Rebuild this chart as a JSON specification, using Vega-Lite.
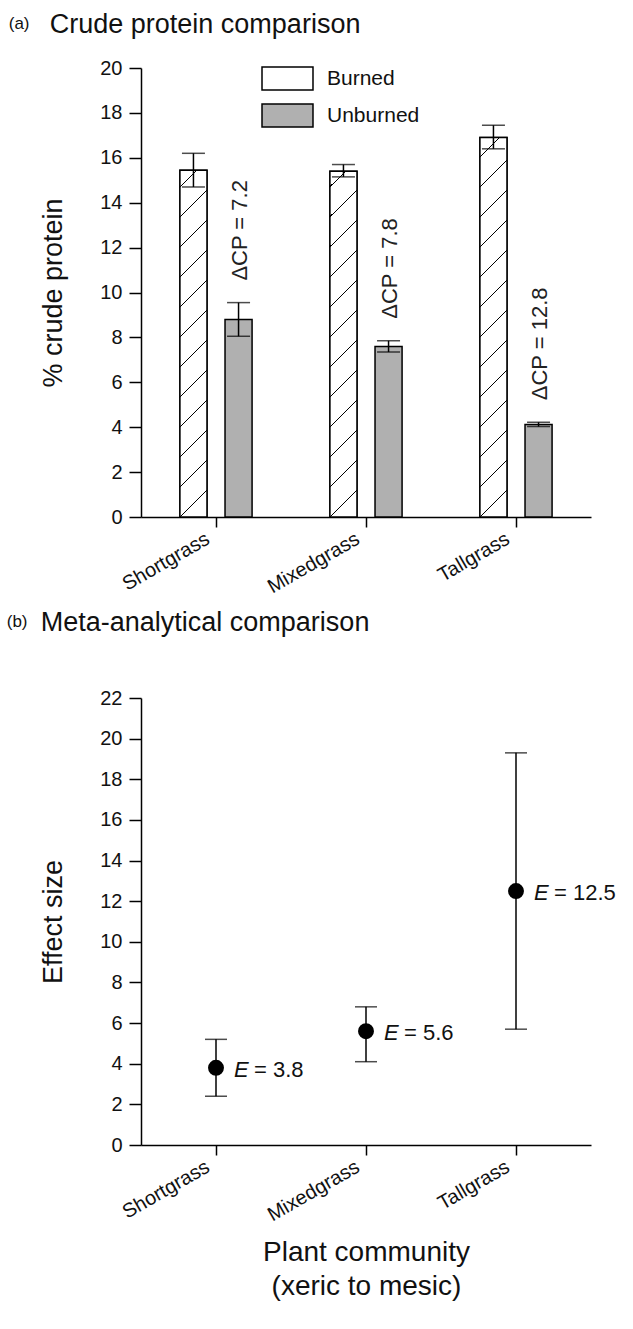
{
  "$schema": "https://vega.github.io/schema/vega-lite/v6.json",
  "background": "white",
  "padding": {"left": 6, "top": 11, "right": 5, "bottom": 5},
  "datasets": {
    "cp": [
      {"community": "Shortgrass", "treatment": "Burned", "cp": 15.45, "lo": 14.7, "hi": 16.2, "dcp": ""},
      {"community": "Shortgrass", "treatment": "Unburned", "cp": 8.8, "lo": 8.05, "hi": 9.55, "dcp": "ΔCP = 7.2"},
      {"community": "Mixedgrass", "treatment": "Burned", "cp": 15.4, "lo": 15.15, "hi": 15.7, "dcp": ""},
      {"community": "Mixedgrass", "treatment": "Unburned", "cp": 7.6, "lo": 7.35, "hi": 7.85, "dcp": "ΔCP = 7.8"},
      {"community": "Tallgrass", "treatment": "Burned", "cp": 16.9, "lo": 16.4, "hi": 17.45, "dcp": ""},
      {"community": "Tallgrass", "treatment": "Unburned", "cp": 4.12, "lo": 4.03, "hi": 4.22, "dcp": "ΔCP = 12.8"}
    ],
    "es": [
      {"community": "Shortgrass", "E": 3.8, "lo": 2.4, "hi": 5.2, "elabel": "= 3.8"},
      {"community": "Mixedgrass", "E": 5.6, "lo": 4.1, "hi": 6.8, "elabel": "= 5.6"},
      {"community": "Tallgrass", "E": 12.5, "lo": 5.7, "hi": 19.3, "elabel": "= 12.5"}
    ]
  },
  "spacing": 12,
  "vconcat": [
    {
      "title": {"text": "(a)", "fontSize": 17, "anchor": "start", "offset": -22, "dx": -31},
      "vconcat": [
        {
          "width": 450,
          "height": 449,
          "title": {"text": "Crude protein comparison", "fontSize": 27, "anchor": "start", "offset": 0, "dy": -19, "dx": 10},
          "data": {"name": "cp"},
          "encoding": {
            "x": {"field": "community", "type": "nominal", "sort": ["Shortgrass", "Mixedgrass", "Tallgrass"],
                  "scale": {"paddingInner": 0, "paddingOuter": 0},
                  "axis": {"title": null, "labelAngle": -30, "labelAlign": "right", "labelBaseline": "middle", "labelOffset": -8, "tickSize": 10, "labelPadding": 10, "labelFontSize": 20}},
            "xOffset": {"field": "treatment", "type": "nominal", "sort": ["Burned", "Unburned"],
                        "scale": {"paddingInner": 0.4, "paddingOuter": 0.863}}
          },
          "layer": [
            {
              "mark": {"type": "bar", "stroke": "black", "strokeWidth": 1.5},
              "encoding": {
                "y": {"field": "cp", "type": "quantitative", "title": "% crude protein",
                      "scale": {"domain": [0, 20], "nice": false},
                      "axis": {"values": [0, 2, 4, 6, 8, 10, 12, 14, 16, 18, 20], "tickSize": 12, "labelFontSize": 20, "titleFontSize": 27, "titlePadding": 32, "labelPadding": 7}},
                "fill": {
                  "field": "treatment", "type": "nominal",
                  "scale": {"domain": ["Burned", "Unburned"], "range": ["white", "#b0b0b0"]},
                  "legend": {
                    "title": null, "orient": "none", "legendX": 134, "legendY": -2, "padding": 0,
                    "symbolType": "M-2.217,-1H2.217V1H-2.217Z", "symbolSize": 529,
                    "symbolStrokeColor": "black", "symbolStrokeWidth": 1.5, "symbolOpacity": 1,
                    "labelFontSize": 21, "labelOffset": 27, "rowPadding": 8, "labelFont": "Liberation Sans", "labelColor": "#111",
                    "encode": {
                      "symbols": {
                        "update": {
                          "stroke": {"value": "black"},
                          "strokeWidth": {"value": 1.5},
                          "opacity": {"value": 1}
                        }
                      }
                    }
                  }
                }
              }
            },
            {
              "transform": [{"filter": "datum.community === 'Shortgrass' && datum.treatment === 'Burned'"}],
              "mark": {"type": "bar", "stroke": "black", "strokeWidth": 1.5, "fill": {"gradient": "linear", "x1": 0, "y1": 0, "x2": 0.0778, "y2": 1, "stops": [
                      {"offset": 0, "color": "white"},
                      {"offset": 0.04585, "color": "white"}, {"offset": 0.04585, "color": "black"}, {"offset": 0.05100, "color": "black"}, {"offset": 0.05100, "color": "white"},
                      {"offset": 0.13181, "color": "white"}, {"offset": 0.13181, "color": "black"}, {"offset": 0.13696, "color": "black"}, {"offset": 0.13696, "color": "white"},
                      {"offset": 0.21777, "color": "white"}, {"offset": 0.21777, "color": "black"}, {"offset": 0.22292, "color": "black"}, {"offset": 0.22292, "color": "white"},
                      {"offset": 0.30372, "color": "white"}, {"offset": 0.30372, "color": "black"}, {"offset": 0.30888, "color": "black"}, {"offset": 0.30888, "color": "white"},
                      {"offset": 0.38968, "color": "white"}, {"offset": 0.38968, "color": "black"}, {"offset": 0.39484, "color": "black"}, {"offset": 0.39484, "color": "white"},
                      {"offset": 0.47564, "color": "white"}, {"offset": 0.47564, "color": "black"}, {"offset": 0.48080, "color": "black"}, {"offset": 0.48080, "color": "white"},
                      {"offset": 0.56160, "color": "white"}, {"offset": 0.56160, "color": "black"}, {"offset": 0.56676, "color": "black"}, {"offset": 0.56676, "color": "white"},
                      {"offset": 0.64756, "color": "white"}, {"offset": 0.64756, "color": "black"}, {"offset": 0.65272, "color": "black"}, {"offset": 0.65272, "color": "white"},
                      {"offset": 0.73352, "color": "white"}, {"offset": 0.73352, "color": "black"}, {"offset": 0.73868, "color": "black"}, {"offset": 0.73868, "color": "white"},
                      {"offset": 0.81948, "color": "white"}, {"offset": 0.81948, "color": "black"}, {"offset": 0.82464, "color": "black"}, {"offset": 0.82464, "color": "white"},
                      {"offset": 0.90544, "color": "white"}, {"offset": 0.90544, "color": "black"}, {"offset": 0.91060, "color": "black"}, {"offset": 0.91060, "color": "white"},
                      {"offset": 0.99140, "color": "white"}, {"offset": 0.99140, "color": "black"}, {"offset": 0.99656, "color": "black"}, {"offset": 0.99656, "color": "white"},
                      {"offset": 1, "color": "white"}]}},
              "encoding": {"y": {"field": "cp", "type": "quantitative", "title": "% crude protein"}}
            },
            {
              "transform": [{"filter": "datum.community === 'Mixedgrass' && datum.treatment === 'Burned'"}],
              "mark": {"type": "bar", "stroke": "black", "strokeWidth": 1.5, "fill": {"gradient": "linear", "x1": 0, "y1": 0, "x2": 0.0781, "y2": 1, "stops": [
                      {"offset": 0, "color": "white"},
                      {"offset": 0.04256, "color": "white"}, {"offset": 0.04256, "color": "black"}, {"offset": 0.04772, "color": "black"}, {"offset": 0.04772, "color": "white"},
                      {"offset": 0.12881, "color": "white"}, {"offset": 0.12881, "color": "black"}, {"offset": 0.13398, "color": "black"}, {"offset": 0.13398, "color": "white"},
                      {"offset": 0.21506, "color": "white"}, {"offset": 0.21506, "color": "black"}, {"offset": 0.22023, "color": "black"}, {"offset": 0.22023, "color": "white"},
                      {"offset": 0.30132, "color": "white"}, {"offset": 0.30132, "color": "black"}, {"offset": 0.30649, "color": "black"}, {"offset": 0.30649, "color": "white"},
                      {"offset": 0.38757, "color": "white"}, {"offset": 0.38757, "color": "black"}, {"offset": 0.39274, "color": "black"}, {"offset": 0.39274, "color": "white"},
                      {"offset": 0.47383, "color": "white"}, {"offset": 0.47383, "color": "black"}, {"offset": 0.47899, "color": "black"}, {"offset": 0.47899, "color": "white"},
                      {"offset": 0.56008, "color": "white"}, {"offset": 0.56008, "color": "black"}, {"offset": 0.56525, "color": "black"}, {"offset": 0.56525, "color": "white"},
                      {"offset": 0.64633, "color": "white"}, {"offset": 0.64633, "color": "black"}, {"offset": 0.65150, "color": "black"}, {"offset": 0.65150, "color": "white"},
                      {"offset": 0.73259, "color": "white"}, {"offset": 0.73259, "color": "black"}, {"offset": 0.73776, "color": "black"}, {"offset": 0.73776, "color": "white"},
                      {"offset": 0.81884, "color": "white"}, {"offset": 0.81884, "color": "black"}, {"offset": 0.82401, "color": "black"}, {"offset": 0.82401, "color": "white"},
                      {"offset": 0.90510, "color": "white"}, {"offset": 0.90510, "color": "black"}, {"offset": 0.91027, "color": "black"}, {"offset": 0.91027, "color": "white"},
                      {"offset": 0.99135, "color": "white"}, {"offset": 0.99135, "color": "black"}, {"offset": 0.99652, "color": "black"}, {"offset": 0.99652, "color": "white"},
                      {"offset": 1, "color": "white"}]}},
              "encoding": {"y": {"field": "cp", "type": "quantitative", "title": "% crude protein"}}
            },
            {
              "transform": [{"filter": "datum.community === 'Tallgrass' && datum.treatment === 'Burned'"}],
              "mark": {"type": "bar", "stroke": "black", "strokeWidth": 1.5, "fill": {"gradient": "linear", "x1": 0, "y1": 0, "x2": 0.0712, "y2": 1, "stops": [
                      {"offset": 0, "color": "white"},
                      {"offset": 0.04851, "color": "white"}, {"offset": 0.04851, "color": "black"}, {"offset": 0.05324, "color": "black"}, {"offset": 0.05324, "color": "white"},
                      {"offset": 0.12718, "color": "white"}, {"offset": 0.12718, "color": "black"}, {"offset": 0.13191, "color": "black"}, {"offset": 0.13191, "color": "white"},
                      {"offset": 0.20586, "color": "white"}, {"offset": 0.20586, "color": "black"}, {"offset": 0.21059, "color": "black"}, {"offset": 0.21059, "color": "white"},
                      {"offset": 0.28453, "color": "white"}, {"offset": 0.28453, "color": "black"}, {"offset": 0.28926, "color": "black"}, {"offset": 0.28926, "color": "white"},
                      {"offset": 0.36321, "color": "white"}, {"offset": 0.36321, "color": "black"}, {"offset": 0.36794, "color": "black"}, {"offset": 0.36794, "color": "white"},
                      {"offset": 0.44188, "color": "white"}, {"offset": 0.44188, "color": "black"}, {"offset": 0.44661, "color": "black"}, {"offset": 0.44661, "color": "white"},
                      {"offset": 0.52056, "color": "white"}, {"offset": 0.52056, "color": "black"}, {"offset": 0.52529, "color": "black"}, {"offset": 0.52529, "color": "white"},
                      {"offset": 0.59923, "color": "white"}, {"offset": 0.59923, "color": "black"}, {"offset": 0.60396, "color": "black"}, {"offset": 0.60396, "color": "white"},
                      {"offset": 0.67790, "color": "white"}, {"offset": 0.67790, "color": "black"}, {"offset": 0.68263, "color": "black"}, {"offset": 0.68263, "color": "white"},
                      {"offset": 0.75658, "color": "white"}, {"offset": 0.75658, "color": "black"}, {"offset": 0.76131, "color": "black"}, {"offset": 0.76131, "color": "white"},
                      {"offset": 0.83525, "color": "white"}, {"offset": 0.83525, "color": "black"}, {"offset": 0.83998, "color": "black"}, {"offset": 0.83998, "color": "white"},
                      {"offset": 0.91393, "color": "white"}, {"offset": 0.91393, "color": "black"}, {"offset": 0.91866, "color": "black"}, {"offset": 0.91866, "color": "white"},
                      {"offset": 0.99260, "color": "white"}, {"offset": 0.99260, "color": "black"}, {"offset": 0.99733, "color": "black"}, {"offset": 0.99733, "color": "white"},
                      {"offset": 1, "color": "white"}]}},
              "encoding": {"y": {"field": "cp", "type": "quantitative", "title": "% crude protein"}}
            },
            {
              "mark": {"type": "rule", "color": "black", "strokeWidth": 1.5},
              "encoding": {
                "y": {"field": "lo", "type": "quantitative", "title": "% crude protein"},
                "y2": {"field": "hi"}
              }
            },
            {
              "mark": {"type": "tick", "color": "black", "size": 23, "thickness": 1.5},
              "encoding": {"y": {"field": "lo", "type": "quantitative", "title": "% crude protein"}}
            },
            {
              "mark": {"type": "tick", "color": "black", "size": 23, "thickness": 1.5},
              "encoding": {"y": {"field": "hi", "type": "quantitative", "title": "% crude protein"}}
            },
            {
              "transform": [{"filter": "datum.treatment === 'Unburned'"}],
              "mark": {"type": "text", "angle": 270, "align": "left", "baseline": "middle", "dx": 22, "dy": 1, "fontSize": 22, "font": "Liberation Sans", "color": "#222"},
              "encoding": {
                "y": {"field": "hi", "type": "quantitative", "title": "% crude protein"},
                "text": {"field": "dcp"}
              }
            }
          ]
        }
      ]
    },
    {
      "title": {"text": "(b)", "fontSize": 17, "anchor": "start", "offset": -22, "dx": -33},
      "vconcat": [
        {
          "width": 450,
          "height": 447,
          "title": {"text": "Meta-analytical comparison", "fontSize": 27, "anchor": "start", "offset": 0, "dy": -51, "dx": 1},
          "data": {"name": "es"},
          "encoding": {
            "x": {"field": "community", "type": "nominal", "sort": ["Shortgrass", "Mixedgrass", "Tallgrass"],
                  "scale": {"paddingInner": 0, "paddingOuter": 0},
                  "axis": {"title": ["Plant community", "(xeric to mesic)"], "titleFontSize": 28, "titlePadding": 14, "titleLineHeight": 34,
                           "labelAngle": -30, "labelAlign": "right", "labelBaseline": "middle", "labelOffset": -8, "tickSize": 10, "labelPadding": 10, "labelFontSize": 20}}
          },
          "layer": [
            {
              "mark": {"type": "rule", "color": "black", "strokeWidth": 1.5},
              "encoding": {
                "y": {"field": "lo", "type": "quantitative", "title": "Effect size",
                      "scale": {"domain": [0, 22], "nice": false},
                      "axis": {"values": [0, 2, 4, 6, 8, 10, 12, 14, 16, 18, 20, 22], "tickSize": 12, "labelFontSize": 20, "titleFontSize": 27, "titlePadding": 32, "labelPadding": 7}},
                "y2": {"field": "hi"}
              }
            },
            {
              "mark": {"type": "tick", "color": "black", "size": 22, "thickness": 1.5},
              "encoding": {"y": {"field": "lo", "type": "quantitative", "title": "Effect size"}}
            },
            {
              "mark": {"type": "tick", "color": "black", "size": 22, "thickness": 1.5},
              "encoding": {"y": {"field": "hi", "type": "quantitative", "title": "Effect size"}}
            },
            {
              "mark": {"type": "circle", "color": "black", "size": 254, "opacity": 1},
              "encoding": {"y": {"field": "E", "type": "quantitative", "title": "Effect size"}}
            },
            {
              "mark": {"type": "text", "align": "left", "baseline": "middle", "dx": 18, "dy": 2, "fontSize": 22, "fontStyle": "italic", "font": "Liberation Sans", "color": "#111"},
              "encoding": {"y": {"field": "E", "type": "quantitative", "title": "Effect size"}, "text": {"value": "E"}}
            },
            {
              "mark": {"type": "text", "align": "left", "baseline": "middle", "dx": 38, "dy": 2, "fontSize": 22, "font": "Liberation Sans", "color": "#111"},
              "encoding": {"y": {"field": "E", "type": "quantitative", "title": "Effect size"}, "text": {"field": "elabel"}}
            }
          ]
        }
      ]
    }
  ],
  "config": {
    "view": {"stroke": null},
    "font": "Liberation Sans",
    "title": {"font": "Liberation Sans", "fontWeight": "normal", "color": "#111", "anchor": "start"},
    "axis": {"domainColor": "black", "tickColor": "black", "labelColor": "#111", "titleColor": "#111",
             "labelFont": "Liberation Sans", "titleFont": "Liberation Sans", "titleFontWeight": "normal",
             "grid": false, "domainWidth": 1.5, "tickWidth": 1.5}
  }
}
